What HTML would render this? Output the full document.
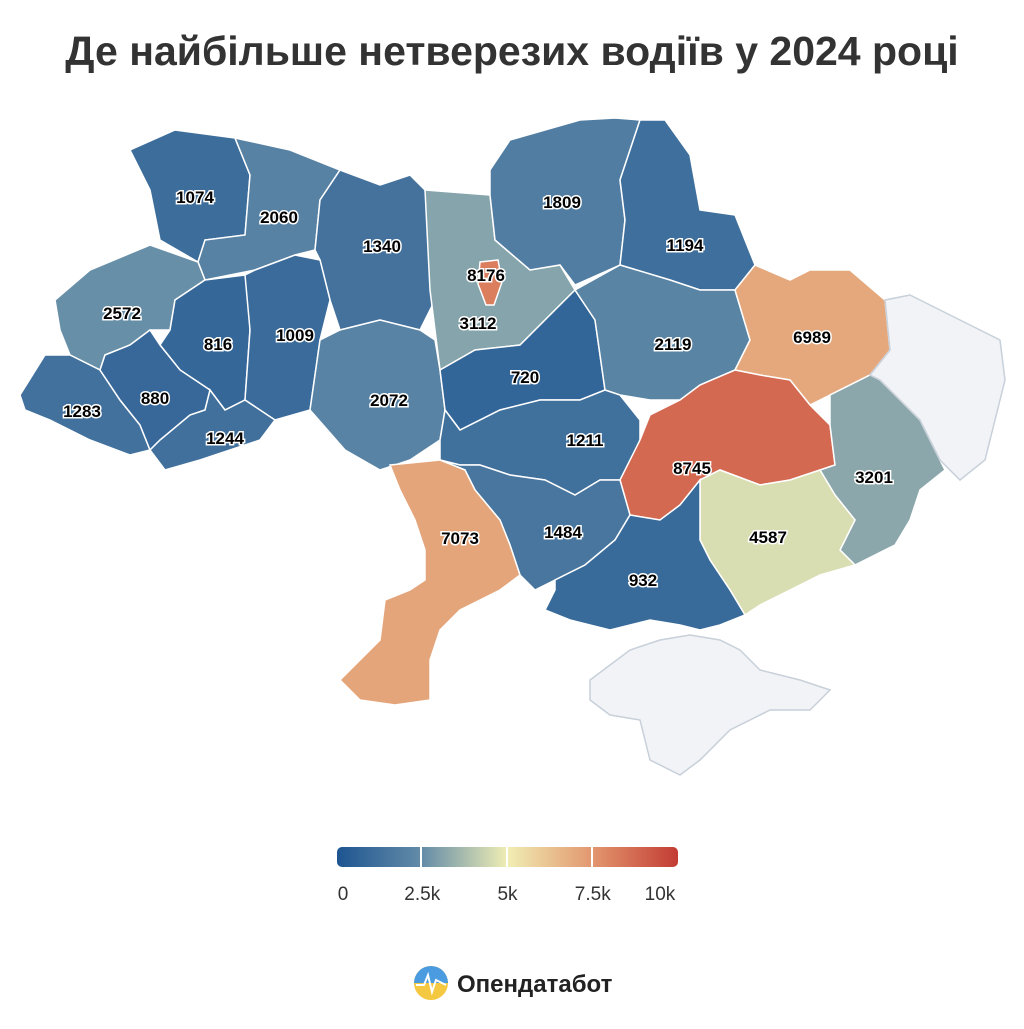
<!DOCTYPE html>
<html><head><meta charset="utf-8">
<style>
html,body{margin:0;padding:0;background:#fff;}
body{width:1024px;height:1024px;overflow:hidden;font-family:"Liberation Sans",sans-serif;}
</style></head>
<body>
<svg id="map" width="1024" height="1024" viewBox="0 0 1024 1024" xmlns="http://www.w3.org/2000/svg">
<defs>
<linearGradient id="lg" x1="0" x2="1" y1="0" y2="0">
<stop offset="0" stop-color="#1e5591"/>
<stop offset="0.25" stop-color="#648ca8"/>
<stop offset="0.5" stop-color="#f0eeb4"/>
<stop offset="0.75" stop-color="#e2966e"/>
<stop offset="1" stop-color="#c33c34"/>
</linearGradient>
</defs>
<text x="512" y="65" text-anchor="middle" font-size="41" font-weight="bold" fill="#333">Де найбільше нетверезих водіїв у 2024 році</text>
<g id="regions"></g>
<g id="labels"></g>
<g>
<rect x="337" y="847" width="341" height="20" rx="5" fill="url(#lg)"/>
<line x1="421" y1="847" x2="421" y2="867" stroke="#fff" stroke-width="2"/>
<line x1="507" y1="847" x2="507" y2="867" stroke="#fff" stroke-width="2"/>
<line x1="592" y1="847" x2="592" y2="867" stroke="#fff" stroke-width="2"/>
<g id="legend-ticks" font-size="19" fill="#333"></g>
</g>
<g>
<circle cx="431" cy="983" r="17" fill="#f5c842"/>
<path d="M414,983 A17,17 0 0 1 448,983 Z" fill="#4a9be0"/>
<polyline points="416,985 424,985 428,975 432,992 436,980 446,985" fill="none" stroke="#fff" stroke-width="2"/>
<text x="457" y="992" font-size="24" font-weight="bold" fill="#222">Опендатабот</text>
</g>
</svg>
<script>
const regionNames=["volyn","rivne","zhytomyr","kyiv-oblast","kyiv-city","chernihiv","sumy","lviv","ternopil","khmelnytskyi","vinnytsia","zakarpattia","ivano-frankivsk","chernivtsi","cherkasy","poltava","kharkiv","kirovohrad","dnipropetrovsk","donetsk","zaporizhzhia","mykolaiv","odesa","kherson","luhansk","crimea"];
const values=[1074,2060,1340,3112,8176,1809,1194,2572,816,1009,2072,1283,880,1244,720,2119,6989,1211,8745,3201,4587,1484,7073,932,null,null];
const tickValues=[0,2500,5000,7500,10000];
const tickLabels=["0","2.5k","5k","7.5k","10k"];
const shapes=[
"130,150 175,130 235,138 250,175 245,235 205,240 198,262 160,240 150,190",
"235,138 290,150 340,170 320,200 315,250 295,255 255,270 205,280 198,262 205,240 245,235 250,175",
"340,170 380,185 410,175 425,190 430,230 435,300 420,330 380,320 340,330 330,300 320,260 315,250 320,200",
"425,190 490,195 495,240 530,270 560,265 575,290 545,320 520,345 475,350 440,370 435,330 430,290",
"480,262 498,260 502,282 494,305 486,305 478,284",
"490,195 490,170 510,140 580,120 615,118 640,120 620,180 625,220 620,265 575,285 560,265 530,270 495,240",
"640,120 665,120 690,155 700,210 735,215 755,265 735,290 700,290 670,280 620,265 625,220 620,180",
"55,300 90,270 150,245 198,262 205,280 175,300 170,330 150,330 130,345 105,355 100,370 70,355 60,330",
"175,300 205,280 245,275 255,290 250,330 245,400 225,410 210,390 180,370 160,345 170,330",
"245,275 255,270 295,255 320,260 330,300 320,340 315,375 310,410 275,420 245,400 250,330",
"340,330 380,320 420,330 435,340 440,370 445,410 440,440 410,460 380,470 345,450 310,410 315,375 320,340",
"20,395 45,355 70,355 100,370 120,400 140,425 150,450 130,455 90,440 50,420 25,410",
"100,370 105,355 130,345 150,330 160,345 180,370 210,390 205,410 190,415 160,440 150,450 140,425 120,400",
"150,450 160,440 190,415 205,410 210,390 225,410 245,400 275,420 260,440 230,450 200,460 165,470",
"440,370 475,350 520,345 545,320 575,290 595,320 600,355 605,390 580,400 540,400 500,410 460,430 445,410",
"575,290 620,265 670,280 700,290 735,290 750,340 735,370 700,385 680,400 650,400 620,395 605,390 600,355 595,320",
"735,290 755,265 790,280 810,270 850,270 885,300 890,350 870,375 830,395 810,405 790,380 760,375 735,370 750,340",
"440,440 445,410 460,430 500,410 540,400 580,400 605,390 620,395 640,420 640,440 625,480 600,480 575,495 545,480 510,475 480,465 460,465 440,460",
"650,415 680,400 700,385 735,370 760,375 790,380 810,405 830,425 835,465 820,470 790,480 760,485 720,470 700,480 680,505 660,520 630,515 620,480 640,440",
"830,425 830,395 870,375 880,380 920,420 940,460 945,470 920,490 910,520 895,545 855,565 840,550 855,520 835,495 820,470 835,465",
"720,470 760,485 790,480 820,470 835,495 855,520 840,550 855,565 820,575 790,590 760,605 745,615 730,590 710,560 700,540 700,480",
"440,460 460,465 480,465 510,475 545,480 575,495 600,480 620,480 630,515 615,540 585,565 555,580 535,590 520,575 510,545 500,520 475,490 465,470",
"390,465 440,460 465,470 475,490 500,520 510,545 520,575 500,590 480,600 460,610 440,630 430,660 430,700 395,705 360,700 340,680 360,660 380,640 385,600 410,590 425,580 425,550 415,520 400,490",
"630,515 660,520 680,505 700,480 700,540 710,560 730,590 745,615 720,625 700,630 680,625 650,620 610,630 570,620 545,610 555,590 555,580 585,565 615,540",
"885,300 910,295 960,320 1000,340 1005,380 995,420 985,460 960,480 940,460 920,420 880,380 870,375 890,350",
"590,680 630,650 660,640 690,635 720,640 740,650 760,670 800,680 830,690 810,710 770,710 730,730 700,760 680,775 650,760 640,720 610,715 590,700"
];
const labelPos=[[195,197],[279,217],[382,246],[478,323],[486,275],[562,202],[685,245],[122,313],[218,344],[295,335],[389,400],[82,411],[155,398],[225,438],[525,377],[673,344],[812,337],[585,440],[692,468],[874,477],[768,537],[563,532],[460,538],[643,580]];
const stops=[[0,[30,85,145]],[2500,[100,140,168]],[5000,[240,238,180]],[7500,[226,150,110]],[10000,[195,60,52]]];
function color(v){
  if(v==null) return "#f1f3f6";
  v=Math.max(0,Math.min(10000,v));
  for(let i=0;i<stops.length-1;i++){
    const [a,ca]=stops[i],[b,cb]=stops[i+1];
    if(v<=b){const t=(v-a)/(b-a);return "rgb("+ca.map((c,k)=>Math.round(c+(cb[k]-c)*t)).join(",")+")";}
  }
}
const NS="http://www.w3.org/2000/svg";
const rg=document.getElementById("regions"),lgp=document.getElementById("labels");
regionNames.forEach((n,i)=>{
  const p=document.createElementNS(NS,"polygon");
  p.setAttribute("points",shapes[i]);
  p.setAttribute("fill",color(values[i]));
  p.setAttribute("stroke",values[i]==null?"#c8d0da":"#fff");
  p.setAttribute("stroke-width","1.5");
  
  
  rg.appendChild(p);
  if(values[i]!=null&&labelPos[i]){
    const t=document.createElementNS(NS,"text");
    t.setAttribute("x",labelPos[i][0]);t.setAttribute("y",labelPos[i][1]+6);
    t.setAttribute("text-anchor","middle");t.setAttribute("font-size","17");
    t.setAttribute("font-weight","bold");t.setAttribute("fill","#000");
    t.setAttribute("stroke","#fff");t.setAttribute("stroke-width","3");
    t.setAttribute("paint-order","stroke");
    t.textContent=values[i];
    
    
    lgp.appendChild(t);
  }
});
const lt=document.getElementById("legend-ticks");
function lx(v){return 337+v/10000*341;}
tickValues.forEach((v,i)=>{
  const t=document.createElementNS(NS,"text");
  let x=lx(v);if(i===0)x=343;if(i===tickValues.length-1)x=660;
  t.setAttribute("x",x);t.setAttribute("y",900);t.setAttribute("text-anchor","middle");
  t.textContent=tickLabels[i];
  
  
  lt.appendChild(t);
});
</script>
</body></html>
